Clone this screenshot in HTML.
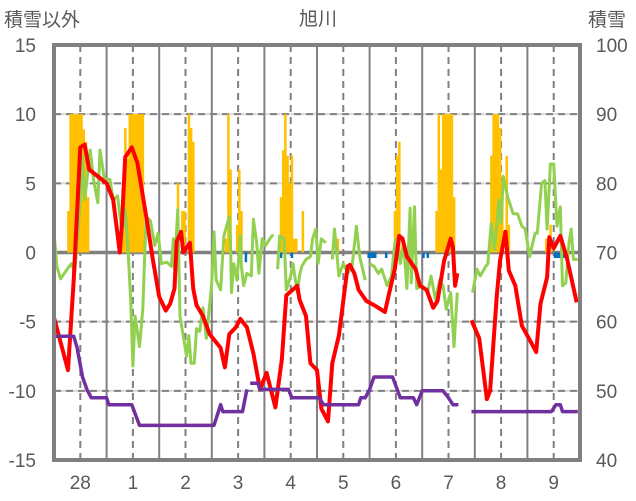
<!DOCTYPE html>
<html><head><meta charset="utf-8"><style>
body{margin:0;background:#fff;}
svg{display:block;font-family:"Liberation Sans","Noto Sans CJK JP",sans-serif;}
</style></head><body>
<svg id="chart" width="636" height="501" xmlns="http://www.w3.org/2000/svg">
<g id="grid"></g>
<g id="bars"></g>
<g id="lines"></g>
<rect x="54" y="45" width="526" height="415" fill="none" stroke="#808080" stroke-width="4"/>
<g id="labels" fill="#595959" font-size="19"></g>
<text x="318" y="25" text-anchor="middle" font-size="19" fill="#595959">旭川</text>
<text x="4" y="26" font-size="19" fill="#595959">積雪以外</text>
<text x="588" y="26" font-size="19" fill="#595959">積雪</text>
</svg>
<script>
const leftTicks=[15,10,5,0,-5,-10,-15];
const rightTicks=[100,90,80,70,60,50,40];
const dayLabels=["28","1","2","3","4","5","6","7","8","9"];
const redHours=[0,6.4,9,12,14,16,24,27,30,31,32.5,35.5,38,40,42.5,45,48,51,53,55,56,58,59,62,63.5,65,68,71,76,78,80,83,85,88,91,94,97,101,104,106,111,112,115,117,120,122,125,127,130,134,135,137,139,142.5,147,151,153,155.5,157.5,159,161,165,167,170,173,175,178,181,182,183,184,null,190.5,194,197.5,199,202,203.5,206,207.5,210.5,213.5,217,220,222,225,226,228,231,234,238.5];
const redVals=[-4.7,-8.5,-2,7.6,7.8,6,5,3.8,0,2,6.9,7.6,6.5,4.6,2.2,-0.4,-3.2,-4.2,-3.7,-2.6,0.8,1.5,0,0.7,-2.6,-3.8,-4.6,-5.9,-6.9,-8.3,-5.9,-5.4,-4.8,-5.4,-7.3,-9.9,-8.7,-11.2,-7.7,-3.1,-2.4,-3.4,-4.6,-8,-8.5,-11.3,-12.2,-8,-6,-1,-0.9,-1.5,-2.7,-3.5,-3.9,-4.3,-2.9,-1.2,1.2,1,-0.3,-1.2,-2.4,-2.7,-4,-3.5,-0.6,1,0.4,-2.4,-1.5,null,-4.9,-6.2,-10.6,-10,-3.2,-0.6,1.5,-1.3,-2.4,-5.3,-6.3,-7.2,-3.7,-1.8,1.1,0.3,1.2,-0.4,-3.6];
const greenHours=[0,1.3,3,6,8,9.5,12,13,14,16.5,18,20,21,23,25.5,27,29,31,32.5,33.5,35,36,37,39,40.5,42,44,46,47.5,49,51.5,53.5,54.5,55,56.5,57.5,60.5,61.5,62.5,64,65,66.5,68,69.5,72,73,74,76,77.5,80,80.5,81,82,83.5,85,85.5,86.5,88,90,91,92.5,93.5,95,96.5,98.5,100,null,102,103,105,106,108,109,111,112,113,115,117,118,119.5,120.5,122,124,null,127,128,130,132,134,136,138,139.5,142,null,144,146,148,149.5,152,154,155.5,156.5,158,159.5,161,162.5,163,164.5,165.5,168,170.5,172,174,176,177.5,179,181,182.5,184,null,191,193,194.5,197,198,199.5,201,203,204,205,207,209.5,211.5,213.5,215,217,219.5,220.5,222.5,224,225,226.5,228,229.5,231,232,233.5,235,236,237,239];
const greenVals=[1.5,-1,-1.9,-1.2,-0.8,-1.4,3.8,7,3.8,7.4,5.3,3.6,7.4,5.3,5.3,3.8,4.1,1.4,3.1,1,-3.4,-8.2,-4.6,-6.8,-4.1,2.6,2.3,0.5,1.4,-0.8,-0.7,-1,1,-1.2,3.1,-4.6,-7.5,-6,-8,-8,-5.5,-5.7,-4,-6.2,-2.2,1.5,-2,-2.7,1.2,2.6,1,-2.9,-0.8,-2,1.2,-1,-2.4,-1.5,-1.7,2.4,0.7,-1.5,1,0.5,1,1.3,null,-1.2,1.2,1,-2.7,-1.7,-0.8,-2.9,-1.7,-1,-0.5,-0.3,1,1.7,-0.8,1,0.7,null,-0.5,1.7,-1.7,-0.8,-1.5,-1,1.9,-0.3,-2,null,-0.8,-1,-1.5,-1.2,-2.4,-1.7,0.7,1,-0.8,0.7,-2.6,3.2,-2.2,3.3,-2.6,-2.4,-2.9,-1.7,-3.4,-2,-2.4,-4.1,-2.9,-6.8,-2.9,null,-2.9,-1.2,-1.7,-1,-0.8,2.1,0.2,3.8,2.1,5.5,4,2.8,2.8,1.9,1.7,-0.3,1.4,1.4,5,5.2,1.7,6.4,6.4,1.9,3.3,-2.4,-2.2,0.7,1.7,-0.5,-0.5];
const snowHours=[0,9,10.5,13,15,17,24,25,35.5,39,73,76,77,86,88,null,89.5,93,94,107,108.5,121,123,139,140,142,144,146,154.5,158,164,165.5,168,177.5,180,182,184.5,null,190.5,227,229,231,232,239];
const snowVals=[57.9,57.9,56.3,52,50.2,49,49,48,48,45,45,48,47,47,50.2,null,51.1,51.1,50.2,50.2,49,49,48,48,49,49,50.2,52,52,49,49,48,50,50,49,48,48,null,47,47,48,48,47,47];
const precipHours=[6,7,8,9,10,11,12,13,14,15,31,32,33,34,35,36,37,38,39,40,56,58,59,61,62,63,78,79,80,83,84,85,103,104,105,106,107,108,109,110,113,129,155,156,157,162,174,175,176,177,178,179,180,181,182,199,200,201,202,203,204,206,207,224,225,226];
const precipVals=[3,10,10,10,10,10,10,8.9,8,4,1.5,9,6.8,10,10,10,10,10,10,10,5,3,3,10,9,8,1,10,6,2,6,3,4,7.4,10,7,5,7,1,1,3,1,3,7,8,3,3,10,6,10,10,10,10,10,4,7,10,10,10,9,5,7,2,1,1,2];
const meltHours=[87,103,108,143,144,145,146,151,168,170,228,229,230,231,232,233];
const meltVals=[-0.7,-0.4,-0.4,-0.4,-0.4,-0.4,-0.4,-0.4,-0.4,-0.4,-0.4,-0.4,-0.4,-0.4,-0.4,-0.4];

const NS="http://www.w3.org/2000/svg";
const X0=54,X1=580,Y0=45,Y1=460,HOURS=240;
function xh(h){return X0+h*(X1-X0)/HOURS;}
function yl(v){return Y1-(v+15)*(Y1-Y0)/30;}
function yr(v){return Y1-(v-40)*(Y1-Y0)/60;}
function mk(tag,attrs,parent){const e=document.createElementNS(NS,tag);for(const k in attrs)e.setAttribute(k,attrs[k]);parent.appendChild(e);return e;}
const grid=document.getElementById('grid'),bars=document.getElementById('bars'),lines=document.getElementById('lines'),labels=document.getElementById('labels');
// horizontal grid
leftTicks.forEach(function(t){
  if(t===15||t===-15)return;
  const y=yl(t);
  if(t===0){const l=mk('line',{x1:X0,x2:X1,y1:y,y2:y,stroke:'#808080','stroke-width':3.5},grid);
    
    return;}
  mk('line',{x1:X0,x2:X1,y1:y,y2:y,stroke:'#d9d9d9','stroke-width':2},grid);
  const l=mk('line',{x1:X0,x2:X1,y1:y,y2:y,stroke:'#808080','stroke-width':2,'stroke-dasharray':'7,5'},grid);
  
  
});
// vertical grid
for(let d=0;d<10;d++){
  const xn=xh(d*24+12);
  const l=mk('line',{x1:xn,x2:xn,y1:Y0,y2:Y1,stroke:'#808080','stroke-width':2,'stroke-dasharray':'7,5'},grid);
  
  
  if(d>0){const xm=xh(d*24);
    const m=mk('line',{x1:xm,x2:xm,y1:Y0,y2:Y1,stroke:'#808080','stroke-width':2},grid);
    
    }
  const t=mk('text',{x:xn,y:489,'text-anchor':'middle'},labels);
  t.textContent=dayLabels[d];
  
  
}
leftTicks.forEach(function(t){
  const e=mk('text',{x:36,y:yl(t)+7,'text-anchor':'end'},labels);e.textContent=t;
  
  
});
rightTicks.forEach(function(t){
  const e=mk('text',{x:596,y:yr(t)+7},labels);e.textContent=t;
  
  
});
const bw=(X1-X0)/HOURS;
precipHours.forEach(function(h,i){
  const v=Math.min(precipVals[i],10);
  const r=mk('rect',{x:xh(h),y:yl(v),width:bw+0.3,height:yl(0)-yl(v),fill:'#ffc000'},bars);
  
  
});
meltHours.forEach(function(h,i){
  const r=mk('rect',{x:xh(h),y:yl(0),width:bw+0.3,height:yl(meltVals[i])-yl(0),fill:'#0070c0'},bars);
  
  
});
function path(hs,vs,yf){
  let d='',pen=false;
  for(let i=0;i<hs.length;i++){
    if(hs[i]===null||vs[i]===null){pen=false;continue;}
    d+=(pen?'L':'M')+xh(hs[i]).toFixed(1)+','+yf(vs[i]).toFixed(1);pen=true;
  }
  return d;
}
const g=mk('path',{d:path(greenHours,greenVals,yl),fill:'none',stroke:'#92d050','stroke-width':3,'stroke-linejoin':'round'},lines);


const rd=mk('path',{d:path(redHours,redVals,yl),fill:'none',stroke:'#ff0000','stroke-width':4,'stroke-linejoin':'round'},lines);


const pp=mk('path',{d:path(snowHours,snowVals,yr),fill:'none',stroke:'#7030a0','stroke-width':3.5,'stroke-linejoin':'round'},lines);


</script>
</body></html>
